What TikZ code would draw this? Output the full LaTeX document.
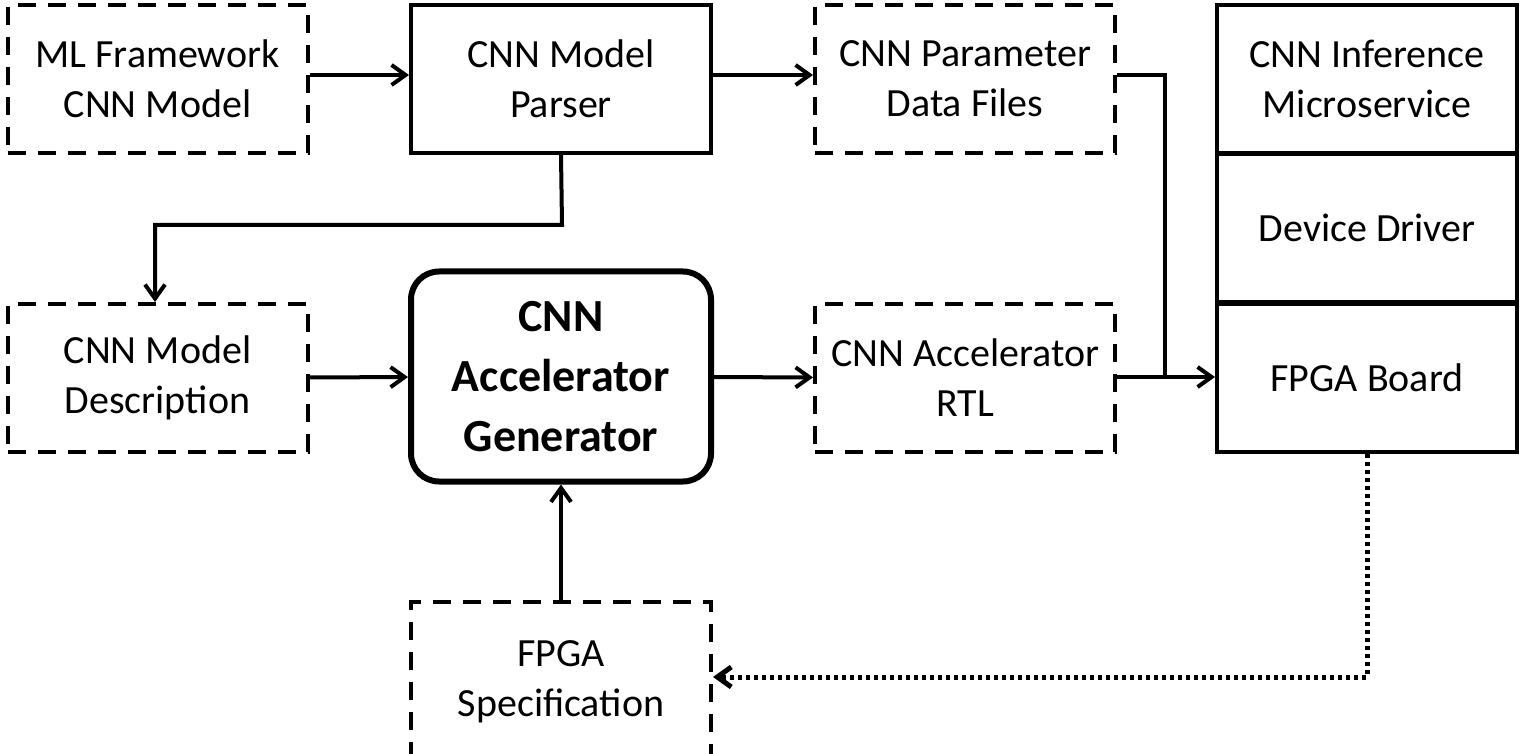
\documentclass[tikz,border=0pt]{standalone}
\usepackage{fontspec}
\setmainfont{Carlito}
\usetikzlibrary{arrows.meta}
\begin{document}
\begin{tikzpicture}[x=0.5pt,y=-0.5pt,
 box/.style={draw,line width=2pt,minimum width=150pt,minimum height=74pt,align=center,font=\fontsize{20}{25}\selectfont,inner sep=0pt},
 dbox/.style={box,dash pattern=on 9pt off 6pt},
 arr/.style={line width=2pt,-{Straight Barb[length=7pt,width=10pt]}}]
\useasboundingbox (0,0) rectangle (1520,754);
\node[dbox] (ml) at (157.5,79) {ML Framework\\CNN Model};
\node[box] (parser) at (561,79) {CNN Model\\Parser};
\node[dbox] (param) at (965,79) {CNN Parameter\\Data Files};
\node[box] (inf) at (1367,79) {CNN Inference\\Microservice};
\node[box] (drv) at (1367,228) {Device Driver};
\node[box] (board) at (1367,378) {FPGA Board};
\node[dbox] (desc) at (157.5,378) {CNN Model\\Description};
\node[box,rounded corners=14pt,line width=3pt,minimum height=105pt,font=\fontsize{23}{30}\selectfont\bfseries] (gen) at (561,376.5) {CNN\\Accelerator\\Generator};
\node[dbox] (rtl) at (965,378) {CNN Accelerator\\RTL};
\node[dbox,minimum height=80pt,anchor=north] (spec) at (561,600) {FPGA\\Specification};
\coordinate (j) at (1165,377);
\draw[arr] (ml.east|-0,75) -- (parser.west|-0,75);
\draw[arr] (parser.east|-0,75) -- (param.west|-0,75);
\draw[arr] (parser.south) -- (562,225) -- (155,225) -- (desc.north-|155,0);
\draw[arr] (desc) -- (gen);
\draw[arr] (gen) -- (rtl);
\draw[line width=2pt] (param.east|-0,75) -- (1165,75) -- (j);
\draw[arr] (rtl.east|-j) -- (board.west|-j);
\draw[arr] (spec.north) -- (gen.south);
\draw[arr,dotted,line width=2.5pt] (board.south) -- (1367,677) -- (spec.east|-0,677);
\end{tikzpicture}
\end{document}
